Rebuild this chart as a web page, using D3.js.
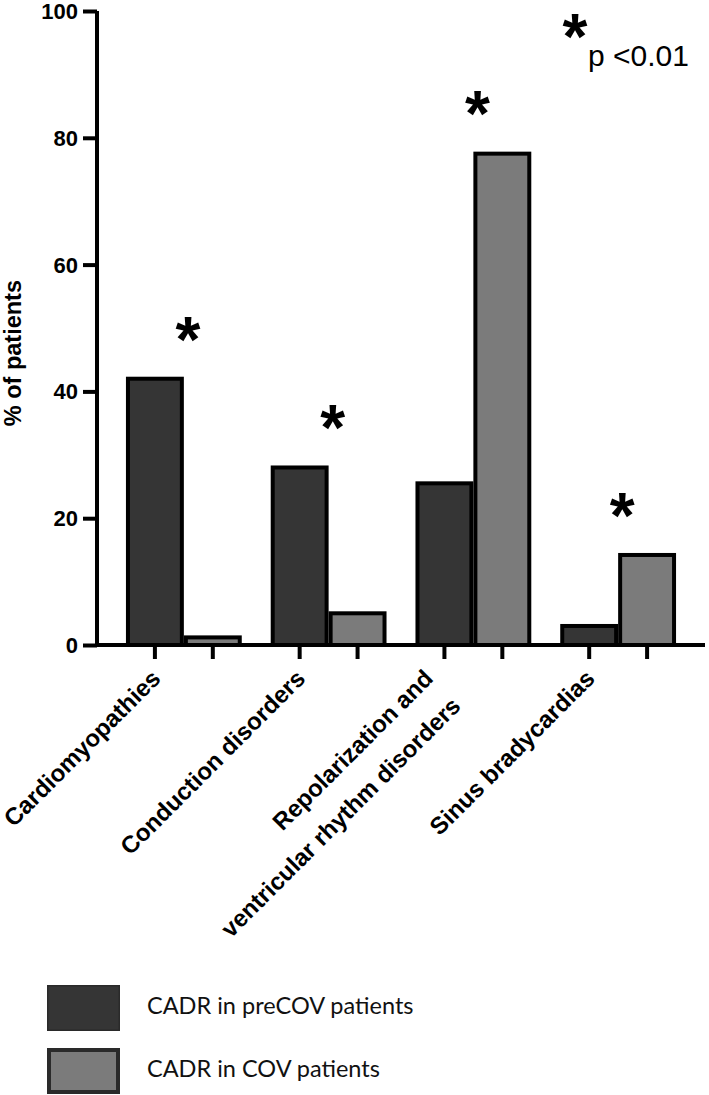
<!DOCTYPE html>
<html>
<head>
<meta charset="utf-8">
<script src="https://cdn.jsdelivr.net/npm/d3@7"></script>
<style>
  body { margin: 0; background: #fff; }
  svg { display: block; }
</style>
</head>
<body>
<div id="chart"></div>
<script>
// 数据
const categories = ["Cardiomyopathies", "Conduction disorders", "Repolarization and ventricular rhythm disorders", "Sinus bradycardias"];
const categoryLines = [["Cardiomyopathies"], ["Conduction disorders"], ["Repolarization and", "ventricular rhythm disorders"], ["Sinus bradycardias"]];
const seriesNames = ["CADR in preCOV patients", "CADR in COV patients"];
const preCOV = [42, 28, 25.5, 3];
const COV = [1.2, 5, 77.5, 14.2];
const significant = [true, true, true, true];
const yTicks = [0, 20, 40, 60, 80, 100];

const width = 709, height = 1095;
const colors = ["#353535", "#7b7b7b"];

const svg = d3.select("#chart").append("svg")
    .attr("width", width)
    .attr("height", height);

// 比例尺
const y = d3.scaleLinear().domain([0, 100]).range([645, 11]);
const x = d3.scaleBand().domain(categories).range([97, 705])
    .paddingInner(0.2).paddingOuter(0.2);
const xSub = d3.scaleBand().domain(seriesNames).range([0, x.bandwidth()]);

const rows = categories.map((c, i) => ({ cat: c, values: [preCOV[i], COV[i]] }));

// 柱子
const sw = 4;
const groups = svg.append("g").selectAll("g")
    .data(rows)
    .enter()
    .append("g")
    .attr("transform", d => `translate(${x(d.cat)},0)`);

groups.selectAll("rect")
    .data(d => d.values.map((v, j) => ({ v, s: seriesNames[j], j })))
    .enter()
    .append("rect")
    .attr("x", d => xSub(d.s) + sw / 2)
    .attr("width", xSub.bandwidth() - sw)
    .attr("y", d => y(d.v))
    .attr("height", d => y(0) - y(d.v))
    .attr("fill", d => colors[d.j])
    .attr("stroke", "#000")
    .attr("stroke-width", sw);

// 坐标轴
const yAxis = svg.append("g")
    .attr("transform", "translate(97,0)")
    .call(d3.axisLeft(y).tickValues(yTicks).tickSize(14).tickPadding(5));
yAxis.select(".domain").attr("stroke-width", 4).attr("d", `M0,${y(100)}V${y(0) + 2}`);
yAxis.selectAll(".tick line").attr("stroke-width", 4);
yAxis.selectAll(".tick text")
    .attr("font-family", "Liberation Sans, Arial, sans-serif")
    .attr("font-weight", "bold")
    .attr("font-size", 22)
    .attr("dy", "0.34em")
    .attr("fill", "#000");

const xAxis = svg.append("g").attr("transform", `translate(0,${y(0)})`);
xAxis.append("line")
    .attr("x1", 95).attr("x2", 705)
    .attr("stroke", "#000").attr("stroke-width", 4);
const tickPos = [];
categories.forEach(c => seriesNames.forEach(s => tickPos.push(x(c) + xSub(s) + xSub.bandwidth() / 2)));
xAxis.selectAll(".xt")
    .data(tickPos)
    .enter()
    .append("line")
    .attr("x1", d => d).attr("x2", d => d)
    .attr("y1", 0).attr("y2", 14)
    .attr("stroke", "#000").attr("stroke-width", 4);

// 分类标签 (旋转)
const labels = svg.append("g").selectAll("text")
    .data(categories)
    .enter()
    .append("text")
    .attr("transform", (d, i) => `translate(${x(d) + xSub.bandwidth() / 2 + 7 - 17 * (categoryLines[i].length - 1)},680) rotate(-45)`)
    .attr("text-anchor", "end")
    .attr("font-family", "Liberation Sans, Arial, sans-serif")
    .attr("font-weight", "bold")
    .attr("font-size", 24)
    .attr("fill", "#000");
labels.each(function(d, i) {
    categoryLines[i].forEach((ln, k) => {
        d3.select(this).append("tspan")
            .attr("x", 0)
            .attr("y", k * 39)
            .text(ln);
    });
});

// Y轴标题
svg.append("text")
    .attr("transform", "translate(21,280) rotate(-90)")
    .attr("text-anchor", "end")
    .attr("font-family", "Liberation Sans, Arial, sans-serif")
    .attr("font-weight", "bold")
    .attr("font-size", 23.5)
    .text("% of patients");

// 显著性星号
const starFont = 64;
svg.append("g").selectAll("text")
    .data(rows.filter((d, i) => significant[i]))
    .enter()
    .append("text")
    .attr("x", d => x(d.cat) + x.bandwidth() / 2 + 4)
    .attr("y", d => y(d3.max(d.values)) - 53 + starFont * 0.56)
    .attr("text-anchor", "middle")
    .attr("font-family", "Liberation Sans, Arial, sans-serif")
    .attr("font-weight", "bold")
    .attr("font-size", starFont)
    .text("*");

svg.append("text")
    .attr("x", 575).attr("y", 23 + starFont * 0.56)
    .attr("text-anchor", "middle")
    .attr("font-family", "Liberation Sans, Arial, sans-serif")
    .attr("font-weight", "bold")
    .attr("font-size", starFont)
    .text("*");
svg.append("text")
    .attr("x", 588).attr("y", 66)
    .attr("font-family", "Liberation Sans, Arial, sans-serif")
    .attr("font-size", 30)
    .text("p <0.01");

// 图例
const legend = svg.append("g").selectAll("g")
    .data(seriesNames)
    .enter()
    .append("g")
    .attr("transform", (d, i) => `translate(47,${985 + i * 63})`);
legend.append("rect")
    .attr("x", (d, i) => i ? 2 : 0.75)
    .attr("y", (d, i) => i ? 2 : 0.75)
    .attr("width", (d, i) => i ? 69 : 71.5)
    .attr("height", (d, i) => i ? 42 : 44.5)
    .attr("fill", (d, i) => colors[i])
    .attr("stroke", "#2a2a2a")
    .attr("stroke-width", (d, i) => i ? 4 : 1.5);
legend.append("text")
    .attr("x", 100)
    .attr("y", 29)
    .attr("font-family", "Lato, 'Open Sans', sans-serif")
    .attr("font-size", 23.5)
    .attr("fill", "#111")
    .text(d => d);
</script>
</body>
</html>
